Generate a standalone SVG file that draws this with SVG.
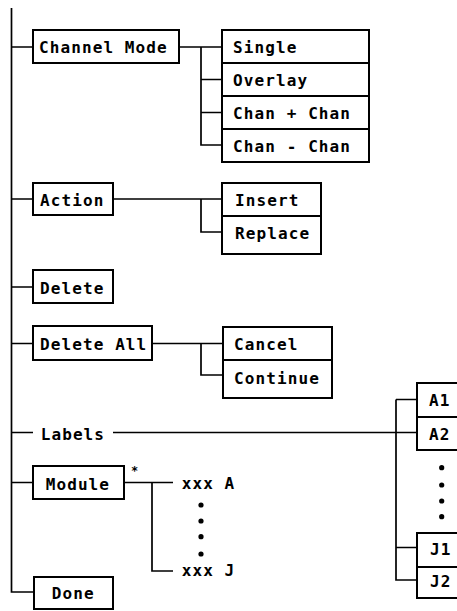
<svg xmlns="http://www.w3.org/2000/svg" width="457" height="611" viewBox="0 0 457 611">
<style>
.box{fill:#fff;stroke:#000;stroke-width:2}
.ln{fill:none;stroke:#000;stroke-width:1.7}
text{font-family:"DejaVu Sans Mono","Liberation Mono",monospace;font-weight:bold;font-size:16px;letter-spacing:1.1px;fill:#000}
.dot{fill:#000}
</style>
<rect width="457" height="611" fill="#fff"/>
<g id="connectors">
<path class="ln" d="M11.5,8 V592 H34"/>
<path class="ln" d="M11.5,47 H33 M11.5,199 H33 M11.5,287 H33 M11.5,343.5 H33 M11.5,482.5 H33"/>
<path class="ln" d="M11.5,432.5 H33 M113,432.5 H417"/>
<path class="ln" d="M179,47 H222 M201,47 V145 H222 M201,79.5 H222 M201,112.5 H222"/>
<path class="ln" d="M113,199 H222 M201,199 V232 H222"/>
<path class="ln" d="M152,343.5 H223 M201,343.5 V375 H223"/>
<path class="ln" d="M396,399.5 H417 M396,399.5 V580 H417 M396,547.5 H417"/>
<path class="ln" d="M124,482.5 H173 M152,482.5 V571 H173"/>
</g>
<g id="channel-mode"><rect class="box" x="33" y="30" width="146" height="33"/><text x="39" y="53">Channel Mode</text></g>
<g id="single"><rect class="box" x="222" y="30" width="147" height="33"/><text x="233" y="53">Single</text></g>
<g id="overlay"><rect class="box" x="222" y="63" width="147" height="33"/><text x="233" y="86">Overlay</text></g>
<g id="chan-plus-chan"><rect class="box" x="222" y="96" width="147" height="33"/><text x="233" y="118.5">Chan + Chan</text></g>
<g id="chan-minus-chan"><rect class="box" x="222" y="129" width="147" height="33"/><text x="233" y="151.5">Chan - Chan</text></g>
<g id="action"><rect class="box" x="33" y="183" width="80" height="32"/><text x="40" y="206">Action</text></g>
<g id="insert"><rect class="box" x="222" y="183" width="99" height="33"/><text x="235" y="206">Insert</text></g>
<g id="replace"><rect class="box" x="222" y="216" width="99" height="38"/><text x="235" y="239">Replace</text></g>
<g id="delete"><rect class="box" x="33" y="270" width="80" height="33"/><text x="40" y="293.5">Delete</text></g>
<g id="delete-all"><rect class="box" x="33" y="326" width="119" height="34"/><text x="40" y="350">Delete All</text></g>
<g id="cancel"><rect class="box" x="223" y="327" width="109" height="33"/><text x="234" y="349.5">Cancel</text></g>
<g id="continue"><rect class="box" x="223" y="360" width="109" height="38"/><text x="234" y="384">Continue</text></g>
<g id="labels"><rect x="34" y="424" width="78" height="18" fill="#fff"/><text x="40.7" y="440">Labels</text></g>
<g id="a1"><rect class="box" x="417" y="383" width="45" height="34"/><text x="429" y="406">A1</text></g>
<g id="a2"><rect class="box" x="417" y="417" width="45" height="33"/><text x="429" y="439.5">A2</text></g>
<g id="label-dots"><circle class="dot" cx="441.7" cy="467.7" r="2.6"/><circle class="dot" cx="441.7" cy="485" r="2.6"/><circle class="dot" cx="441.7" cy="501" r="2.6"/><circle class="dot" cx="441.7" cy="516.7" r="2.6"/></g>
<g id="j1"><rect class="box" x="417" y="533" width="45" height="34"/><text x="430" y="555">J1</text></g>
<g id="j2"><rect class="box" x="417" y="567" width="45" height="31"/><text x="430" y="587">J2</text></g>
<g id="module"><rect class="box" x="33" y="466" width="91" height="33"/><text x="45.7" y="489.5">Module</text><text x="131" y="475" style="font-size:12px;letter-spacing:0">*</text></g>
<g id="xxx-a"><text x="181.7" y="488.5">xxx A</text></g>
<g id="module-dots"><circle class="dot" cx="201" cy="505" r="2.6"/><circle class="dot" cx="201" cy="521" r="2.6"/><circle class="dot" cx="201" cy="536.7" r="2.6"/><circle class="dot" cx="201" cy="554" r="2.6"/></g>
<g id="xxx-j"><text x="181.7" y="576">xxx J</text></g>
<g id="done"><rect class="box" x="34" y="577" width="79" height="32"/><text x="51.7" y="598.5">Done</text></g>
</svg>
